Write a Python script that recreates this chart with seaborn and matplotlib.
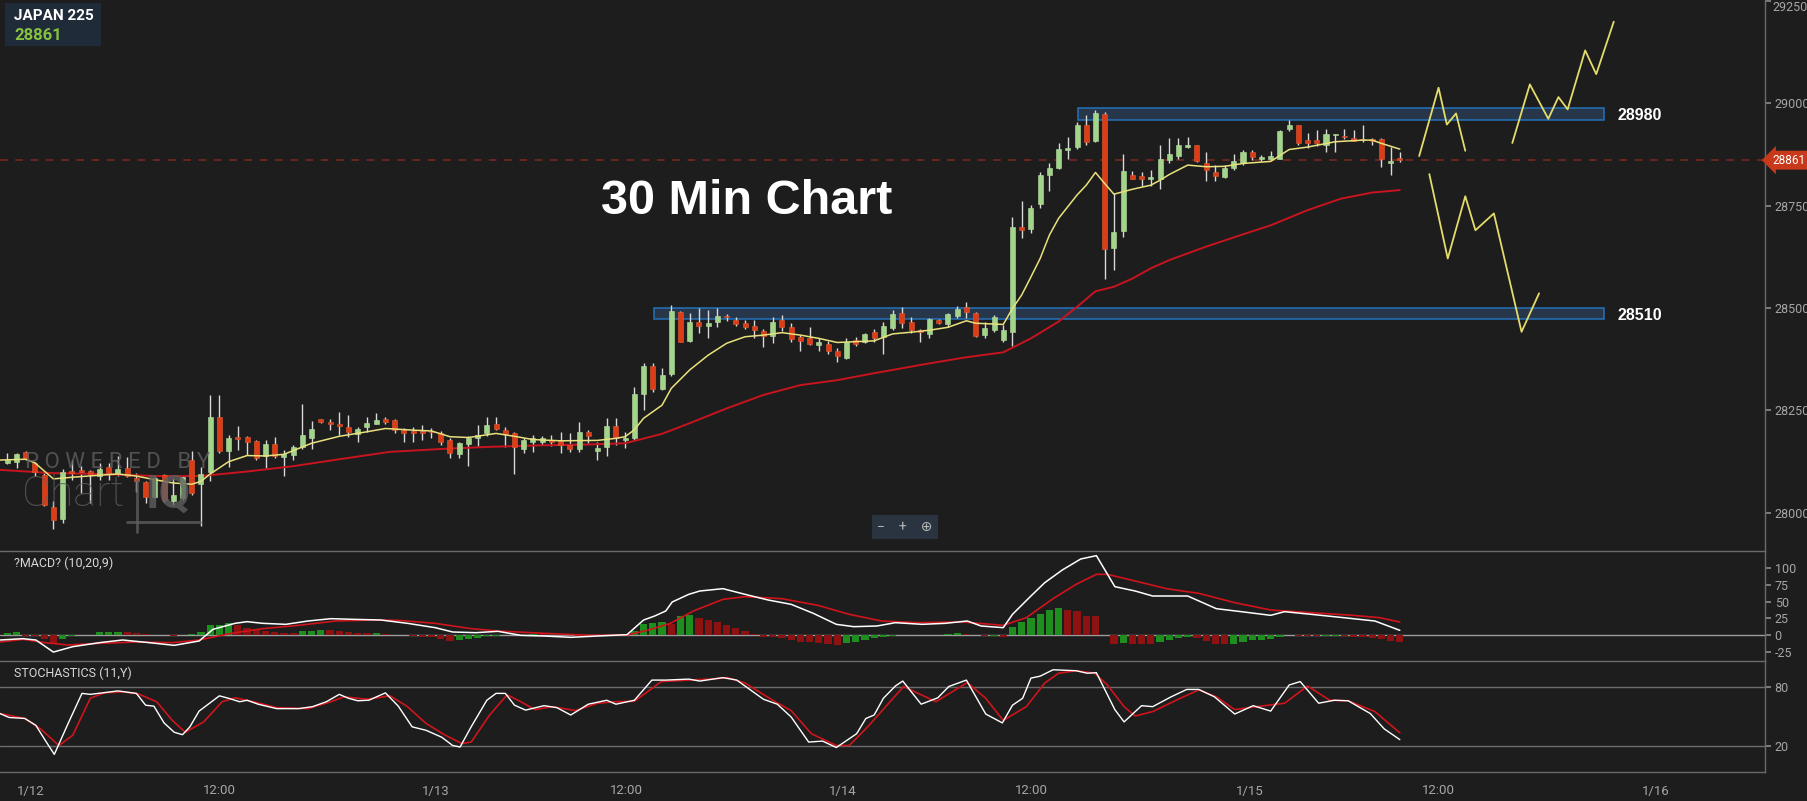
import numpy as np
import pandas as pd
import matplotlib.pyplot as plt
import seaborn as sns
from matplotlib.patches import Rectangle
from matplotlib.lines import Line2D

# ---------------- data (30 min bars, index 0..151) ----------------
opens = [28121, 28124, 28148, 28121, 28092, 28014, 27985, 28103, 28105, 28103,
         28090, 28111, 28097, 28109, 28084, 28075, 28040, 28092, 28030, 28036,
         28130, 28070, 28099, 28234, 28150, 28186, 28185, 28176, 28138, 28168,
         28136, 28142, 28161, 28184, 28229, 28222, 28217, 28209, 28192, 28210,
         28218, 28229, 28226, 28202, 28200, 28200, 28198, 28195, 28179, 28144,
         28168, 28184, 28194, 28217, 28202, 28194, 28157, 28174, 28174, 28179,
         28175, 28165, 28157, 28197, 28152, 28160, 28211, 28178, 28182, 28290,
         28359, 28303, 28338, 28491, 28420, 28466, 28457, 28467, 28479, 28472,
         28463, 28456, 28445, 28433, 28471, 28455, 28429, 28426, 28409, 28412,
         28394, 28377, 28422, 28416, 28441, 28430, 28452, 28489, 28465, 28446,
         28436, 28470, 28460, 28480, 28503, 28489, 28434, 28446, 28422, 28442,
         28698, 28693, 28753, 28824, 28842, 28885, 28893, 28946, 28907, 28974,
         28647, 28688, 28824, 28823, 28814, 28815, 28861, 28871, 28893, 28897,
         28855, 28831, 28820, 28841, 28854, 28880, 28865, 28863, 28865, 28936,
         28946, 28910, 28910, 28899, 28923, 28918, 28916, 28911, 28910, 28912,
         28854, 28866]
highs = [28147, 28146, 28150, 28125, 28097, 28028, 28108, 28130, 28115, 28105,
         28121, 28123, 28139, 28137, 28097, 28078, 28089, 28094, 28085, 28090,
         28152, 28111, 28288, 28288, 28190, 28212, 28188, 28178, 28177, 28186,
         28154, 28165, 28265, 28225, 28230, 28228, 28247, 28239, 28210, 28233,
         28243, 28235, 28228, 28208, 28210, 28214, 28208, 28200, 28184, 28174,
         28187, 28214, 28233, 28233, 28210, 28198, 28182, 28190, 28188, 28190,
         28198, 28194, 28222, 28202, 28174, 28231, 28231, 28198, 28308, 28365,
         28365, 28353, 28507, 28493, 28489, 28499, 28495, 28499, 28485, 28477,
         28471, 28471, 28450, 28479, 28483, 28463, 28434, 28455, 28426, 28420,
         28402, 28426, 28430, 28440, 28450, 28467, 28495, 28503, 28479, 28450,
         28475, 28473, 28487, 28506, 28515, 28491, 28467, 28484, 28458, 28723,
         28761, 28751, 28831, 28853, 28904, 28918, 28953, 28972, 28983, 28979,
         28780, 28875, 28834, 28831, 28837, 28899, 28915, 28915, 28918, 28899,
         28880, 28850, 28849, 28875, 28885, 28885, 28873, 28883, 28934, 28958,
         28948, 28928, 28934, 28938, 28926, 28938, 28934, 28948, 28915, 28915,
         28893, 28880]
lows = [28119, 28109, 28130, 28090, 28016, 27960, 27975, 28081, 28048, 28024,
        28081, 28081, 28089, 28087, 28052, 28024, 28036, 28026, 28020, 28032,
        28044, 27967, 28077, 28146, 28113, 28154, 28142, 28130, 28109, 28134,
        28090, 28130, 28157, 28157, 28220, 28202, 28190, 28186, 28174, 28198,
        28216, 28216, 28194, 28174, 28174, 28179, 28184, 28165, 28135, 28135,
        28114, 28163, 28187, 28202, 28161, 28096, 28145, 28149, 28165, 28163,
        28145, 28149, 28149, 28170, 28129, 28139, 28166, 28158, 28178, 28251,
        28296, 28300, 28333, 28416, 28418, 28438, 28426, 28453, 28469, 28456,
        28448, 28426, 28406, 28414, 28445, 28418, 28394, 28410, 28394, 28388,
        28369, 28375, 28407, 28414, 28418, 28389, 28446, 28452, 28438, 28416,
        28428, 28460, 28454, 28476, 28476, 28430, 28428, 28442, 28418, 28408,
        28671, 28684, 28745, 28785, 28839, 28863, 28888, 28898, 28906, 28572,
        28593, 28674, 28815, 28798, 28798, 28790, 28853, 28865, 28891, 28857,
        28810, 28810, 28818, 28837, 28849, 28861, 28858, 28861, 28863, 28932,
        28899, 28891, 28896, 28880, 28880, 28912, 28907, 28906, 28899, 28845,
        28826, 28857]
closes = [28130, 28143, 28131, 28099, 28019, 27982, 28101, 28097, 28099, 28095,
          28107, 28097, 28107, 28090, 28077, 28038, 28086, 28032, 28044, 28087,
          28048, 28095, 28234, 28151, 28182, 28180, 28172, 28134, 28168, 28138,
          28144, 28162, 28190, 28204, 28221, 28216, 28211, 28198, 28204, 28220,
          28226, 28222, 28202, 28196, 28194, 28194, 28197, 28174, 28145, 28170,
          28184, 28190, 28214, 28204, 28192, 28160, 28179, 28182, 28182, 28173,
          28165, 28157, 28198, 28188, 28159, 28211, 28182, 28184, 28290, 28359,
          28303, 28337, 28493, 28418, 28466, 28456, 28464, 28481, 28478, 28461,
          28455, 28446, 28432, 28465, 28453, 28424, 28420, 28412, 28416, 28396,
          28383, 28416, 28412, 28437, 28426, 28456, 28485, 28463, 28446, 28441,
          28473, 28463, 28485, 28498, 28491, 28432, 28452, 28477, 28446, 28697,
          28691, 28745, 28826, 28841, 28889, 28891, 28946, 28906, 28977, 28644,
          28686, 28834, 28816, 28815, 28820, 28863, 28875, 28899, 28899, 28859,
          28837, 28822, 28842, 28858, 28880, 28869, 28866, 28871, 28933, 28948,
          28904, 28902, 28902, 28924, 28924, 28917, 28908, 28910, 28909, 28865,
          28860, 28861]

# moving averages (bar position, price)
ma_fast_x = [-0.8, 2, 3, 5, 7, 10, 12, 14, 16, 18, 20, 21, 22, 24, 26, 28, 30, 33, 36, 39,
             41, 44, 46, 48, 50, 53, 55, 57, 60, 64, 66, 67, 68, 69, 70, 71, 72, 74, 76, 78,
             80, 82, 84, 86, 88, 90, 92, 94, 96, 98, 100, 102, 104, 105, 108, 109, 110, 111,
             112, 113, 114, 116, 117, 118, 119, 120, 121, 122, 124, 125, 126, 128, 130, 132,
             134, 137, 139, 141, 144, 147, 148, 149, 151]
ma_fast_v = [28129, 28131, 28122, 28083, 28087, 28092, 28095, 28090, 28081, 28073, 28070,
             28077, 28095, 28125, 28140, 28139, 28143, 28170, 28187, 28198, 28206, 28202,
             28200, 28186, 28184, 28194, 28187, 28179, 28176, 28177, 28182, 28186, 28203,
             28231, 28247, 28263, 28304, 28349, 28385, 28414, 28430, 28434, 28440, 28434,
             28426, 28416, 28418, 28420, 28437, 28441, 28446, 28453, 28469, 28463, 28460,
             28499, 28532, 28576, 28621, 28678, 28719, 28776, 28800, 28831, 28804, 28778,
             28784, 28790, 28800, 28812, 28826, 28849, 28845, 28846, 28853, 28858, 28887,
             28893, 28906, 28910, 28910, 28902, 28888]
ma_slow_x = [-0.8, 5, 10, 16, 21, 26, 31, 36, 41.5, 47, 52, 58, 63, 67, 71, 74, 78, 82, 86,
             90, 94, 100, 104, 108, 111, 114, 116, 118, 120, 122, 124, 126, 130, 134, 137,
             141, 144.6, 148, 151]
ma_slow_v = [28105, 28097, 28095, 28090, 28090, 28101, 28114, 28131, 28149, 28156, 28161,
             28165, 28167, 28170, 28193, 28219, 28255, 28288, 28312, 28324, 28341, 28365,
             28380, 28392, 28426, 28467, 28503, 28541, 28552, 28572, 28597, 28617, 28650,
             28680, 28702, 28739, 28767, 28782, 28788]

# hand drawn forecast paths
path_a_x = [153.1, 155.2, 156.1, 157.1, 158.1]
path_a_v = [28871, 29038, 28948, 28975, 28884]
path_b_x = [154.2, 156.2, 158.1, 159.2, 161.2, 164.2, 166.1]
path_b_v = [28827, 28621, 28773, 28690, 28731, 28442, 28536]
path_c_x = [163.2, 165.1, 167.1, 168.2, 169.2, 171.1, 172.3, 174.2]
path_c_v = [28903, 29046, 28962, 29015, 28985, 29129, 29071, 29199]

# support / resistance zones
level_labels = ['28980', '28510']
level_lo = [28960, 28473]
level_hi = [28989, 28499]
level_start = [116.1, 70.1]
level_end = 173.1
last_price = 28861

# MACD (10,20,9)
macd_x = [-0.8, 1.7, 3.1, 5, 7.1, 10, 12.5, 15.4, 18.1, 20.8, 22.3, 24.7, 26, 27.7, 30.2,
          32.6, 35.1, 37.5, 40.5, 43.4, 46.4, 48.3, 50.8, 53.2, 55.7, 58.2, 61.1, 64, 67.2,
          69, 70.2, 71.4, 72.1, 73.9, 75.1, 77.6, 80, 82.5, 85, 87.4, 89.9, 91.8, 94.3, 96.3,
          99.2, 101.7, 104.1, 105.6, 108, 109, 111, 112.5, 114.4, 116.4, 118.1, 120.1, 122.3,
          124.2, 128, 131.1, 134.1, 137, 138.5, 141.4, 144.9, 148.3, 151]
macd_v = [-7.5, -5.5, -7.5, -25.6, -17.5, -11.5, -7.5, -11.5, -15.5, -9, 8.5, 17.5, 20,
          17.5, 16, 21, 24.5, 23.5, 22.5, 17.5, 11, 4.5, 3.5, 5.5, -0.5, -1.5, -3.5, -1.5,
          0.5, 22.5, 28.5, 36, 49.5, 61, 66, 69.5, 61, 52.5, 46, 32.5, 16, 12.5, 13.5, 18.5,
          16, 17.5, 21, 13.5, 11, 31, 58.5, 78.5, 97.5, 114, 119, 72.5, 66, 58.5, 58.5, 39.5,
          34.5, 29.5, 35, 31, 26, 21, 7]
sig_x = [-0.8, 1.7, 4.1, 6.6, 10, 14, 17.9, 20.8, 24.3, 27.7, 31.6, 35.6, 39.5, 42.4, 46.4,
         50.3, 53.2, 58.2, 63.1, 67.2, 69.4, 71.9, 74.4, 77.6, 80, 84, 87.9, 91.3, 94.8, 98.7,
         103.6, 108, 110.5, 113.4, 115.9, 118.1, 119.3, 122.3, 125.7, 129.2, 133.1, 137,
         141.4, 145.9, 148.8, 151]
sig_v = [-10.5, -6.5, -11.5, -15, -12.5, -10.5, -11.5, -7.5, 2.5, 9.5, 14.5, 21, 22.5, 22,
         17.5, 9.5, 6, 2.5, -0.5, 0, 7, 17.5, 36, 53.5, 57.5, 54.5, 44.5, 31, 21, 18.5, 19.5,
         14.5, 26, 54.5, 76, 91, 91, 81, 69.5, 62.5, 48.5, 37.5, 33.5, 29.5, 26, 19.5]
hist = [3.5, 5, -1.5, -2, -6.5, -12.5, -5.5, -1, -0.5, 0.5, 4.5, 4.5, 4.5, 4, 3.5, 1, 0.5,
        -0.5, -1, -0.5, 1, 4.5, 14.5, 14.5, 17.5, 14.5, 11, 8.5, 6, 4.5, 3.5, 3, 5.5, 6, 7.5,
        7, 5.5, 4.5, 3.5, 3, 3.5, 1, 0.5, 0, -1.5, -3, -3.5, -5.5, -9, -8, -5.5, -4, -2, -1,
        0, -0.5, 0.5, 2, 1, 0.5, 0, -0.5, -1, -1, -0.5, 0, 0.5, 0.5, 6, 17, 18, 19, 17, 28.5,
        29.5, 26, 22.5, 20, 14.5, 11, 6, 1, -2.5, -3, -5, -8, -10, -10.5, -12, -13, -15, -12,
        -10, -7, -5, -3, -1, 0, 0, -0.5, 0, 0.5, 1, 2.5, 1, 0, -1.5, -1, -3, 12, 20, 26, 31,
        38, 41, 37, 36.5, 29, 28.5, 0, -13, -12.5, -13, -13.5, -14, -10, -8, -5, -3, -5, -9,
        -13, -13.5, -13, -10, -8, -7.5, -6, -3, -0.5, -1, -1.5, -2, -1.5, -1, -2, -3, -3.5,
        -5, -6.5, -9, -10]

# Stochastics (11)
k_x = [-0.8, 0.2, 1.9, 3.1, 4.1, 5.1, 6.6, 8.1, 9, 10.3, 12, 14, 15, 15.9, 17, 18.1, 19,
       19.8, 20.8, 23, 24, 25.2, 26, 27.2, 29.2, 31.6, 33.1, 34.6, 36, 37, 38, 39.2, 41, 42.4,
       43.9, 45.4, 47.1, 48.3, 49.1, 50.3, 52, 53, 54, 55, 56.2, 58.2, 59.6, 61.1, 63, 65, 66,
       68, 69.9, 71.4, 73.9, 75.1, 77.6, 79.1, 82, 83.5, 85, 86.9, 88.4, 89.9, 92.1, 93.1, 94,
       95, 96.3, 97.1, 99.1, 100.9, 102.1, 104, 106.1, 107.9, 109, 110.1, 111, 112, 113.4,
       115.9, 117.1, 118.1, 120.1, 121.1, 123, 124.2, 126.2, 127.9, 129.2, 130.9, 133.1,
       135.1, 137, 139, 140.2, 142.2, 143.9, 145.4, 147.8, 149.3, 151]
k_v = [53, 49, 48, 41, 26, 11.5, 43, 73.5, 72.5, 74, 76, 73.5, 61.5, 60.5, 43.5, 34, 31.5,
       39.5, 55.5, 71, 68.5, 65, 66.5, 62.5, 58, 58, 60, 65, 72.5, 68.5, 66, 66.5, 74, 60.5,
       39.5, 36, 29, 20.5, 19, 39.5, 66.5, 73.5, 73.5, 61.5, 56.5, 61, 59, 51.5, 62.5, 66.5,
       62.5, 66.5, 87, 87, 88, 86, 89.5, 87, 67.5, 62.5, 49.5, 24, 25, 18.5, 32.5, 48, 51.5,
       68.5, 81, 86, 62.5, 69, 80.5, 87, 52.5, 43.5, 61.5, 68.5, 89, 91, 97.5, 96.5, 94, 94.5,
       57, 44.5, 61, 60, 70, 77.5, 77.5, 70, 52.5, 61, 55.5, 82, 85.5, 63.5, 66.5, 66, 53,
       37.5, 26.5]
d_x = [-0.8, 1.9, 3.6, 5.6, 7.1, 9, 10.5, 12.5, 14.2, 16.2, 17.9, 19.3, 21.3, 23.3, 24.7,
       26.7, 29.2, 32.6, 35.1, 36.5, 39, 41.5, 43.4, 45.4, 47.4, 49.3, 50.3, 52.3, 54.2, 55.7,
       57.2, 59.1, 61.6, 64, 66, 68, 69.4, 70.9, 73.9, 76.2, 78.1, 80, 83, 85, 87.2, 89.9,
       91.3, 93.3, 97.2, 100.7, 104.1, 106.1, 108, 110.5, 112.5, 114, 115.9, 117.9, 119.3,
       121.1, 122.3, 124.2, 127.2, 129.2, 131.1, 133.1, 135.5, 138.5, 141, 143.4, 145.4,
       148.3, 151]
d_v = [53, 48, 37.5, 20.5, 31, 68.5, 74, 75, 73, 65, 46, 34, 44.5, 65, 69, 65, 59, 58, 65,
       70, 67.5, 71, 60, 43, 31.5, 22.5, 24, 51.5, 72, 65, 57, 60, 56, 63.5, 65, 65.5, 75,
       85.5, 87, 88, 89.5, 84, 66.5, 56, 32.5, 20.5, 20.5, 39.5, 80.5, 65, 84.5, 68.5, 46,
       60, 84, 94, 96.5, 94, 82, 60, 50.5, 55, 68.5, 77, 70, 57, 60, 63.5, 81, 66.5, 66, 55,
       33.5]

# time axis labels (bar positions)
xtick_pos = [2.5, 23.0, 46.5, 67.1, 90.6, 111.1, 134.7, 155.2, 178.8]
xtick_lab = ['1/12', '12:00', '1/13', '12:00', '1/14', '12:00', '1/15', '12:00', '1/16']
price_ticks = [28000, 28250, 28500, 28750, 29000, 29250]

# ---------------- style ----------------
BG = '#1d1d1d'
GRID = '#6a6a6a'
TXT = '#a6a6a6'
WM = '#5f5f5f'
sns.set_theme(style='dark', rc={'axes.facecolor': BG, 'figure.facecolor': BG,
                                'axes.edgecolor': GRID, 'axes.unicode_minus': False})
plt.rcParams['font.family'] = ['Roboto', 'DejaVu Sans']

W, H = 1808, 801
fig = plt.figure(figsize=(W / 100, H / 100), dpi=100)


def panel(top, bottom):
    return [0, 1 - bottom / H, 1765 / W, (bottom - top) / H]


ax = fig.add_axes(panel(0, 551))
axm = fig.add_axes(panel(551, 661), sharex=ax)
axs = fig.add_axes(panel(661, 772), sharex=ax)

for a in (ax, axm, axs):
    a.set_facecolor(BG)
    for s in ('top', 'left'):
        a.spines[s].set_visible(False)
    for s in ('right', 'bottom'):
        a.spines[s].set_color(GRID)
        a.spines[s].set_linewidth(1)
    a.yaxis.tick_right()
    a.tick_params(axis='y', colors='#888888', labelcolor=TXT, labelsize=9, length=4,
                  direction='out', pad=3)
    a.grid(False)

ax.tick_params(axis='x', bottom=False, labelbottom=False)
axm.tick_params(axis='x', bottom=False, labelbottom=False)

# ---------------- watermark (behind everything) ----------------
fig.text(25 / W, 1 - 463 / H, 'P O W E R E D   B Y', color=WM, fontsize=16, alpha=0.8,
         va='center', ha='left', zorder=0)
fig.text(22 / W, 1 - 495 / H, 'Chart', color=WM, fontsize=31, fontweight='light',
         alpha=0.8, va='center', ha='left', zorder=0)
fig.text(146 / W, 1 - 495 / H, 'IQ', color=WM, fontsize=33, fontweight='bold',
         alpha=0.8, va='center', ha='left', zorder=0)
fig.lines.append(Line2D([137 / W, 137 / W], [1 - 480 / H, 1 - 532 / H], color=WM, lw=2,
                        alpha=0.8, transform=fig.transFigure, zorder=0))
fig.lines.append(Line2D([127 / W, 200 / W], [1 - 522 / H, 1 - 522 / H], color=WM, lw=2,
                        alpha=0.8, transform=fig.transFigure, zorder=0))
for a in (ax, axm, axs):
    a.patch.set_alpha(0)

# ---------------- price panel ----------------
df = pd.DataFrame({'o': opens, 'h': highs, 'l': lows, 'c': closes})
df['x'] = np.arange(len(df))
up = df['c'] >= df['o']
dn = ~up

for lo, hi, st in zip(level_lo, level_hi, level_start):
    ax.add_patch(Rectangle((st, lo), level_end - st, hi - lo, facecolor='#2b3b52',
                           edgecolor='#2377c4', lw=1.2, alpha=0.85, zorder=1))

ax.axhline(last_price, color='#7d2a1e', ls=(0, (5, 5)), lw=1.1, zorder=1)

ax.vlines(df['x'], df['l'], df['h'], color='#d9d9d9', lw=1, zorder=2)
ax.bar(df['x'][up], (df['c'] - df['o'])[up].clip(lower=3), bottom=df['o'][up], width=0.55,
       color='#a2d48a', edgecolor='#b9e0a5', lw=0.4, zorder=3)
ax.bar(df['x'][dn], (df['o'] - df['c'])[dn].clip(lower=3), bottom=df['c'][dn], width=0.55,
       color='#dc3d17', edgecolor='#e55a34', lw=0.4, zorder=3)

sns.lineplot(x=ma_slow_x, y=ma_slow_v, ax=ax, color='#c8141e', lw=1.4, estimator=None,
             sort=False, legend=False, zorder=2.5)
sns.lineplot(x=ma_fast_x, y=ma_fast_v, ax=ax, color='#e9e27c', lw=1.1, estimator=None,
             sort=False, legend=False, zorder=4)
for px, pv in ((path_a_x, path_a_v), (path_b_x, path_b_v), (path_c_x, path_c_v)):
    sns.lineplot(x=px, y=pv, ax=ax, color='#e4dc6a', lw=1.3, estimator=None, sort=False,
                 legend=False, zorder=4)

for lab, lo, hi in zip(level_labels, level_lo, level_hi):
    ax.text(174.6, (lo + hi) / 2 - 5, lab, color='white', fontsize=11.5, fontweight='bold',
            va='center', ha='left', family=['Liberation Sans', 'DejaVu Sans'])

ax.text(747 / 1765, 1 - 202 / 551, '30 Min Chart', transform=ax.transAxes, color='white',
        fontsize=35, fontweight='bold', ha='center', va='center',
        family=['Liberation Sans', 'DejaVu Sans'])

ax.set_ylim(27907, 29252)
ax.set_yticks(price_ticks)
# top label sits on the panel edge; keep it inside the picture
ax.set_yticklabels([str(t) for t in price_ticks[:-1]] + [''])
ax.text(1772 / 1765, price_ticks[-1], str(price_ticks[-1]),
        transform=ax.get_yaxis_transform(), color=TXT, fontsize=9, va='top', ha='left',
        clip_on=False)
ax.set_xlim(-0.79, 190.6)

ax.annotate(str(last_price), xy=(1.0, last_price), xycoords=('axes fraction', 'data'),
            xytext=(1772 / 1765, last_price), textcoords=('axes fraction', 'data'),
            color='white', fontsize=8.5, va='center', ha='left', annotation_clip=False,
            bbox=dict(boxstyle='larrow,pad=0.25', fc='#c8381a', ec='none'), zorder=10)

# ---------------- MACD panel ----------------
hist_s = pd.Series(hist)
hcol = np.where(hist_s.diff().fillna(1) >= 0, '#1e8f1e', '#8e1212')
axm.bar(np.arange(len(hist)), hist, width=0.78, color=hcol, edgecolor='none', lw=0,
        zorder=2)
axm.axhline(0, color='#9c9c9c', lw=1, zorder=1)
sns.lineplot(x=sig_x, y=sig_v, ax=axm, color='#d0141b', lw=1.2, estimator=None, sort=False,
             legend=False, zorder=3)
sns.lineplot(x=macd_x, y=macd_v, ax=axm, color='white', lw=1.1, estimator=None, sort=False,
             legend=False, zorder=4)
axm.set_ylim(-39, 126)
axm.set_yticks([-25, 0, 25, 50, 75, 100])

# ---------------- Stochastics panel ----------------
axs.axhline(80, color='#6c6c6c', lw=1, zorder=1)
axs.axhline(20, color='#6c6c6c', lw=1, zorder=1)
sns.lineplot(x=d_x, y=d_v, ax=axs, color='#d0141b', lw=1.2, estimator=None, sort=False,
             legend=False, zorder=3)
sns.lineplot(x=k_x, y=k_v, ax=axs, color='white', lw=1.0, estimator=None, sort=False,
             legend=False, zorder=4)
axs.set_ylim(-6.4, 106.4)
axs.set_yticks([20, 80])
axs.set_xticks(xtick_pos)
axs.set_xticklabels(xtick_lab)
axs.tick_params(axis='x', colors='#888888', labelcolor=TXT, labelsize=9.5, length=5,
                direction='out', pad=4)
axs.set_xlim(-0.79, 190.6)
for a in (ax, axm, axs):
    a.set_xlabel('')
    a.set_ylabel('')

# ---------------- overlays ----------------
fig.patches.append(Rectangle((5 / W, 1 - 46 / H), 96 / W, 43 / H, transform=fig.transFigure,
                             facecolor='#1f2b38', edgecolor='none', zorder=5))
fig.text(14 / W, 1 - 16 / H, 'JAPAN 225', color='white', fontsize=11, fontweight='bold',
         va='center', ha='left', zorder=6)
fig.text(14 / W, 1 - 36 / H, '28861', color='#86c13f', fontsize=12, fontweight='bold',
         va='center', ha='left', zorder=6)

fig.text(14 / W, 1 - 563 / H, '?MACD? (10,20,9)', color='#d8d8d8', fontsize=9,
         va='center', ha='left')
fig.text(14 / W, 1 - 673 / H, 'STOCHASTICS (11,Y)', color='#d8d8d8', fontsize=9,
         va='center', ha='left')

fig.text(905 / W, 1 - 527 / H, '\u2212    +    \u2295', color='#b5b5b5', fontsize=10,
         va='center', ha='center',
         bbox=dict(boxstyle='square,pad=0.35', fc='#2a3441', ec='none'))

fig.savefig('out.png', dpi=100, facecolor=BG)
